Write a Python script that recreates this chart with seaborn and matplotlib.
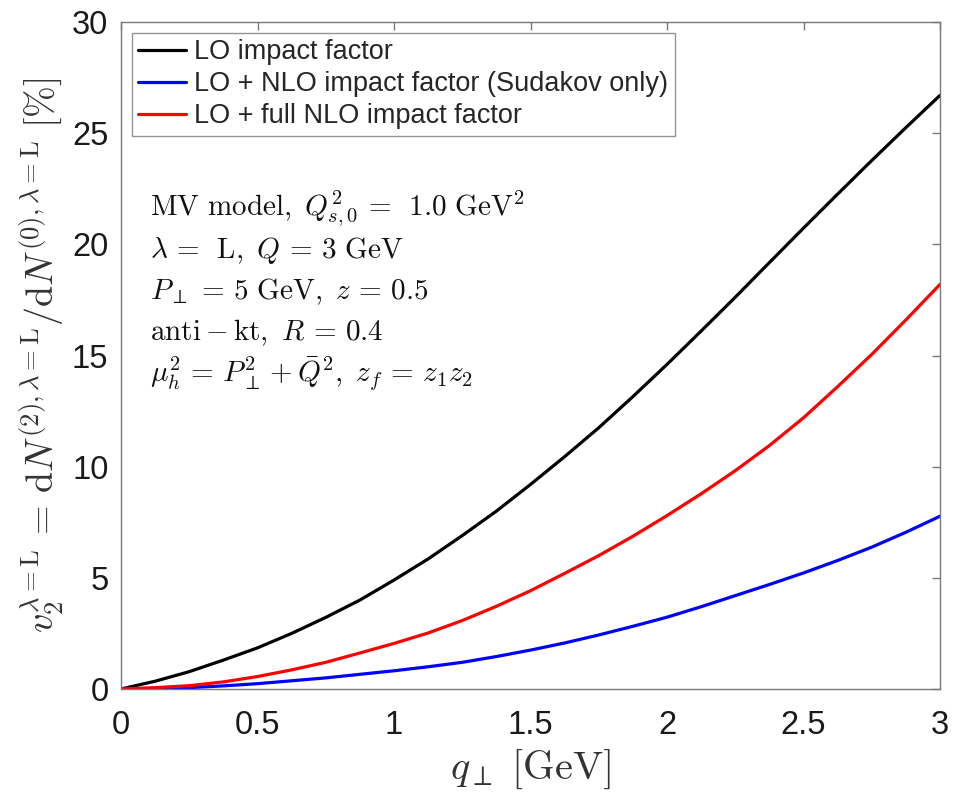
import numpy as np
import pandas as pd
import matplotlib
matplotlib.use("Agg")
import matplotlib.pyplot as plt
import seaborn as sns

# ---- data ----
q_perp = [0.0, 0.125, 0.25, 0.375, 0.5, 0.625, 0.75, 0.875, 1.0, 1.125, 1.25, 1.375,
          1.5, 1.625, 1.75, 1.875, 2.0, 2.125, 2.25, 2.375, 2.5, 2.625, 2.75, 2.875, 3.0]
v2_lo = [0.0, 0.35, 0.78, 1.3, 1.85, 2.5, 3.22, 4.0, 4.9, 5.85, 6.9, 8.0,
         9.2, 10.45, 11.75, 13.15, 14.6, 16.1, 17.62, 19.18, 20.73, 22.26, 23.77, 25.25, 26.7]
v2_sudakov = [0.0, 0.02, 0.06, 0.14, 0.24, 0.37, 0.5, 0.66, 0.82, 1.0, 1.2, 1.46,
              1.75, 2.07, 2.43, 2.82, 3.23, 3.7, 4.2, 4.7, 5.22, 5.78, 6.38, 7.05, 7.77]
v2_full = [0.0, 0.06, 0.15, 0.32, 0.56, 0.86, 1.2, 1.62, 2.05, 2.52, 3.08, 3.72,
           4.42, 5.2, 6.0, 6.87, 7.8, 8.78, 9.82, 10.95, 12.2, 13.6, 15.05, 16.6, 18.2]

labels = ["LO impact factor",
          "LO + NLO impact factor (Sudakov only)",
          "LO + full NLO impact factor"]
colors = ["#000000", "#0000ff", "#ff0000"]

annotations = [
    r"$\mathrm{MV\ model,}\ Q_{s,0}^2 \,=\,\ 1.0\ \mathrm{GeV}^2$",
    r"$\lambda \,=\,\ \mathrm{L},\ Q \,=\, 3\ \mathrm{GeV}$",
    r"$P_\perp \,=\, 5\ \mathrm{GeV},\ z \,=\, 0.5$",
    r"$\mathrm{anti-kt},\ R \,=\, 0.4$",
    r"$\mu_h^2 \,=\, P_\perp^2 + \bar{Q}^2,\ z_f \,=\, z_1 z_2$",
]

x_ticks = [0, 0.5, 1, 1.5, 2, 2.5, 3]
x_ticklabels = ["0", "0.5", "1", "1.5", "2", "2.5", "3"]
y_ticks = [0, 5, 10, 15, 20, 25, 30]

df = pd.DataFrame({
    "q": q_perp * 3,
    "v2": v2_lo + v2_sudakov + v2_full,
    "series": [labels[0]] * len(q_perp) + [labels[1]] * len(q_perp) + [labels[2]] * len(q_perp),
})

sns.set_theme(style="white")
plt.rcParams["font.family"] = ["Liberation Sans", "DejaVu Sans"]
plt.rcParams["mathtext.fontset"] = "cm"

fig = plt.figure(figsize=(9.55, 7.95), dpi=100)
ax = fig.add_axes([121 / 955, 1 - 689 / 795, 819 / 955, 667 / 795])

sns.lineplot(data=df, x="q", y="v2", hue="series", hue_order=labels,
             palette=dict(zip(labels, colors)), linewidth=2.3, ax=ax,
             legend=False)

ax.set_xlim(0, 3)
ax.set_ylim(0, 30)
ax.set_xticks(x_ticks)
ax.set_xticklabels(x_ticklabels)
ax.set_yticks(y_ticks)

edge = "#7a7a7a"
for s in ax.spines.values():
    s.set_color(edge)
    s.set_linewidth(1.0)
    s.set_visible(True)
ax.tick_params(direction="in", length=6, width=1.0, color=edge,
               top=True, right=True, labelsize=23.5, labelcolor="#1a1a1a")
ax.tick_params(axis="x", pad=15)
ax.tick_params(axis="y", pad=9)

ax.set_xlabel(r"$q_\perp\ [\mathrm{GeV}]$", fontsize=29, color="#333333", labelpad=5)
ax.set_ylabel(r"$v_2^{\lambda=\mathrm{L}} \,=\, \mathrm{d}N^{(2),\lambda=\mathrm{L}}/\mathrm{d}N^{(0),\lambda=\mathrm{L}}\ [\%]$",
              fontsize=27.5, color="#333333", labelpad=4)

handles = [plt.Line2D([], [], color=c, lw=2.3) for c in colors]
leg = ax.legend(handles, labels, loc="upper left", bbox_to_anchor=(0.013, 0.984),
                fontsize=19.5, frameon=True, fancybox=False, handlelength=1.75,
                handletextpad=0.3, borderpad=0.25, labelspacing=0.22,
                borderaxespad=0.0)
leg.get_frame().set_edgecolor(edge)
leg.get_frame().set_linewidth(1.0)

y0 = 209
for i, t in enumerate(annotations):
    ypx = y0 + i * 41.3
    ax.text(150 / 955, 1 - ypx / 795, t, transform=fig.transFigure,
            fontsize=21, va="center", ha="left", color="#111111")

fig.savefig("out.png", dpi=100)
